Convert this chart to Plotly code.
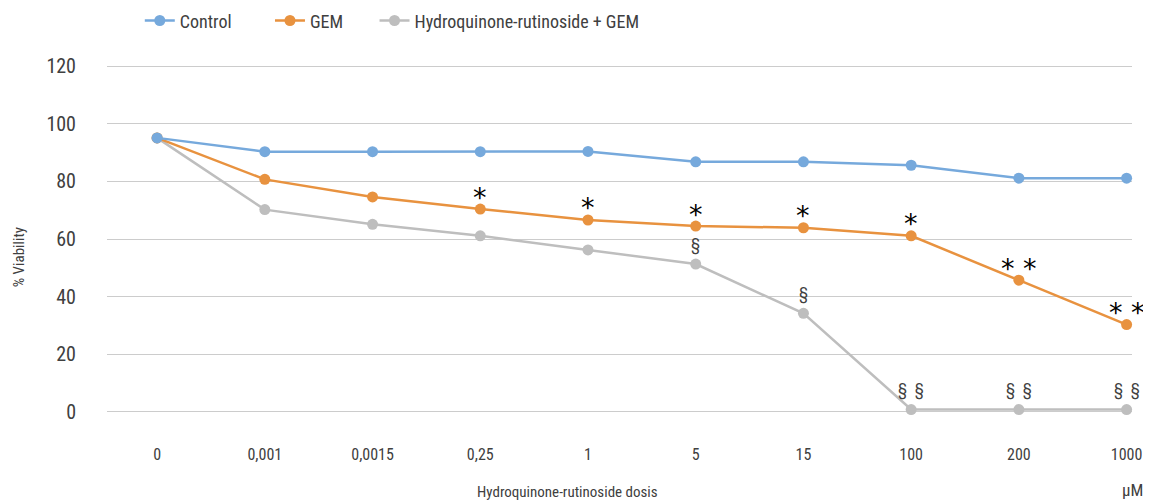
import plotly.graph_objects as go

doses = ["0", "0,001", "0,0015", "0,25", "1", "5", "15", "100", "200", "1000"]
control = [95.1, 90.3, 90.3, 90.3, 90.4, 86.8, 86.8, 85.6, 81.1, 81.1]
gem = [95.1, 80.7, 74.6, 70.4, 66.6, 64.5, 63.9, 61.1, 45.7, 30.3]
hq_gem = [95.1, 70.2, 65.1, 61.1, 56.2, 51.3, 34.2, 0.8, 0.8, 0.8]
sig_gem = ["", "", "", "*", "*", "*", "*", "*", "* *", "* *"]
sig_hq = ["", "", "", "", "", "§", "§", "§\u2002§", "§\u2002§", "§\u2002§"]
y_ticks = [0, 20, 40, 60, 80, 100, 120]

C_CTRL = "#76A9DC"
C_GEM = "#E8923F"
C_HQ = "#BEBEBE"
TXT = "#404040"
FONT = "Liberation Sans Narrow, Roboto Condensed, Arial Narrow, Roboto, sans-serif"

fig = go.Figure()
fig.add_trace(go.Scatter(x=doses, y=hq_gem, mode="lines+markers", name="Hydroquinone-rutinoside + GEM",
                         line=dict(color=C_HQ, width=2.5), marker=dict(color=C_HQ, size=11),
                         cliponaxis=False, legend="legend3", showlegend=True))
fig.add_trace(go.Scatter(x=doses, y=gem, mode="lines+markers", name="GEM",
                         line=dict(color=C_GEM, width=2.5), marker=dict(color=C_GEM, size=11),
                         cliponaxis=False, legend="legend2", showlegend=True))
fig.add_trace(go.Scatter(x=doses, y=control, mode="lines+markers", name="Control",
                         line=dict(color=C_CTRL, width=2.5), marker=dict(color=C_CTRL, size=11),
                         cliponaxis=False, legend="legend", showlegend=True))

for i, (yv, s) in enumerate(zip(gem, sig_gem)):
    if s:
        fig.add_annotation(x=i, y=yv, text=s, showarrow=False, yshift=12,
                           font=dict(family="DejaVu Sans", size=27, color="#000000"))
for i, (yv, s) in enumerate(zip(hq_gem, sig_hq)):
    if s:
        fig.add_annotation(x=i, y=yv, text=s, showarrow=False, yshift=20,
                           font=dict(family=FONT, size=17, color=TXT))

fig.add_annotation(xref="paper", yref="paper", x=0.449, y=-0.2265, text="Hydroquinone-rutinoside dosis",
                   xanchor="center", yanchor="middle",
                   showarrow=False, font=dict(family=FONT, size=15, color=TXT))
fig.add_annotation(xref="paper", yref="paper", x=1.0, y=-0.222, text="µM", xanchor="center", yanchor="middle",
                   showarrow=False, font=dict(family=FONT, size=17, color=TXT))
fig.add_annotation(xref="paper", yref="paper", x=-0.085, y=0.447, text="% Viability", textangle=-90,
                   xanchor="center", yanchor="middle",
                   showarrow=False, font=dict(family=FONT, size=15, color=TXT))

leg_common = dict(orientation="h", yanchor="middle", y=1.127, xanchor="left",
                  font=dict(family=FONT, size=18, color=TXT), bgcolor="rgba(0,0,0,0)")
fig.update_layout(
    width=1143, height=493,
    margin=dict(l=99, r=19, t=57, b=88, autoexpand=False),
    showlegend=True,
    paper_bgcolor="white", plot_bgcolor="white",
    font=dict(family=FONT, color=TXT),
    legend=dict(x=0.032, **leg_common),
    legend2=dict(x=0.159, **leg_common),
    legend3=dict(x=0.261, **leg_common),
    xaxis=dict(type="category", categoryorder="array", categoryarray=doses,
               range=[-0.465, 9.05], showgrid=False, zeroline=False, showline=False,
               ticks="", ticklabelstandoff=30, tickfont=dict(family=FONT, size=16, color=TXT)),
    yaxis=dict(range=[-0.4, 120.4], tickvals=y_ticks, showgrid=True, gridcolor="#CCCCCC", gridwidth=1.3,
               zeroline=False, showline=False, ticks="", ticklabelstandoff=30,
               tickfont=dict(family=FONT, size=20, color=TXT)),
)

fig.write_html("out.html")
